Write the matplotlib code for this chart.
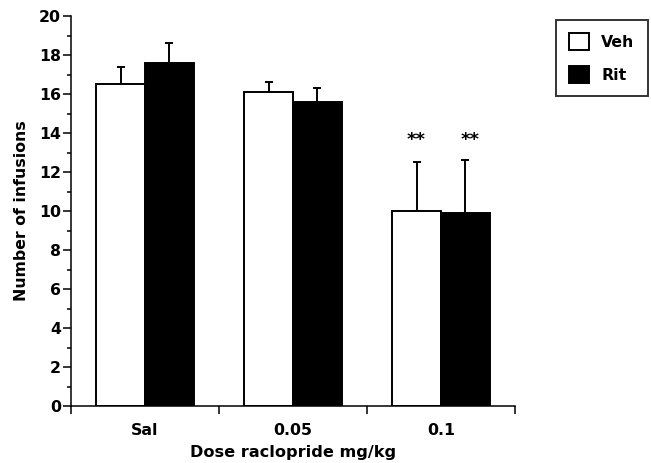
import matplotlib
matplotlib.use("Agg")
import matplotlib.pyplot as plt
import numpy as np
from matplotlib.ticker import MultipleLocator, FixedLocator

plt.rcParams['font.family'] = ['DejaVu Sans']
plt.rcParams['font.weight'] = 'bold'

categories = ['Sal', '0.05', '0.1']
veh_means = [16.5, 16.1, 10.0]
veh_err = [0.9, 0.5, 2.5]
rit_means = [17.6, 15.6, 9.9]
rit_err = [1.0, 0.7, 2.7]
sig_labels = ['', '', '**']

FS = 11.3
W, H = 651, 463
fig = plt.figure(figsize=(W / 100, H / 100), dpi=100)
ax = fig.add_axes([71 / W, 1 - 406 / H, (515 - 71) / W, (406 - 16) / H])

x = np.arange(len(categories))
bw = 0.33
lw = 1.4
ax.bar(x - bw / 2, veh_means, bw, color='white', edgecolor='black', linewidth=lw,
       label='Veh', zorder=2)
ax.bar(x + bw / 2, rit_means, bw, color='black', edgecolor='black', linewidth=lw,
       label='Rit', zorder=2)
ax.errorbar(x - bw / 2, veh_means, yerr=[np.zeros(3), veh_err], fmt='none',
            ecolor='black', elinewidth=1.4, capsize=2.6, capthick=1.4, zorder=1)
ax.errorbar(x + bw / 2, rit_means, yerr=[np.zeros(3), rit_err], fmt='none',
            ecolor='black', elinewidth=1.4, capsize=2.6, capthick=1.4, zorder=1)

for i, s in enumerate(sig_labels):
    if s:
        ax.text(x[i] - bw / 2, veh_means[i] + veh_err[i] + 1.15, s, ha='center',
                va='center', fontsize=13, fontweight='bold')
        ax.text(x[i] + bw / 2 + 0.03, rit_means[i] + rit_err[i] + 1.05, s, ha='center',
                va='center', fontsize=13, fontweight='bold')

ax.set_xlim(-0.5, 2.5)
ax.set_ylim(0, 20)
ax.yaxis.set_major_locator(MultipleLocator(2))
ax.yaxis.set_minor_locator(MultipleLocator(1))
ax.set_xticks(x)
ax.set_xticklabels(categories, fontsize=FS, fontweight='bold')
ax.xaxis.set_minor_locator(FixedLocator([-0.5, 0.5, 1.5, 2.5]))
ax.tick_params(axis='x', which='major', length=0, pad=12)
ax.tick_params(axis='x', which='minor', length=6, width=1.1, direction='out')
ax.tick_params(axis='y', which='major', length=5.8, width=1.1, labelsize=FS, pad=1.5)
ax.tick_params(axis='y', which='minor', length=3, width=1.1)
for lab in ax.get_yticklabels():
    lab.set_fontweight('bold')

for sp in ['top', 'right']:
    ax.spines[sp].set_visible(False)
for sp in ['left', 'bottom']:
    ax.spines[sp].set_linewidth(1.1)

ax.set_ylabel('Number of infusions', fontsize=FS, fontweight='bold', labelpad=7)
ax.set_xlabel('Dose raclopride mg/kg', fontsize=FS + 0.3, fontweight='bold', labelpad=5)

leg = fig.legend(loc='upper right', bbox_to_anchor=(648 / W, 1 - 20 / H),
                 frameon=True, fancybox=False, edgecolor='black',
                 prop={'weight': 'bold', 'size': FS},
                 handlelength=1.25, handleheight=1.25, labelspacing=1.05,
                 borderpad=0.85, handletextpad=0.8, borderaxespad=0)
leg.get_frame().set_linewidth(1.4)

fig.savefig('out.png', dpi=100)
